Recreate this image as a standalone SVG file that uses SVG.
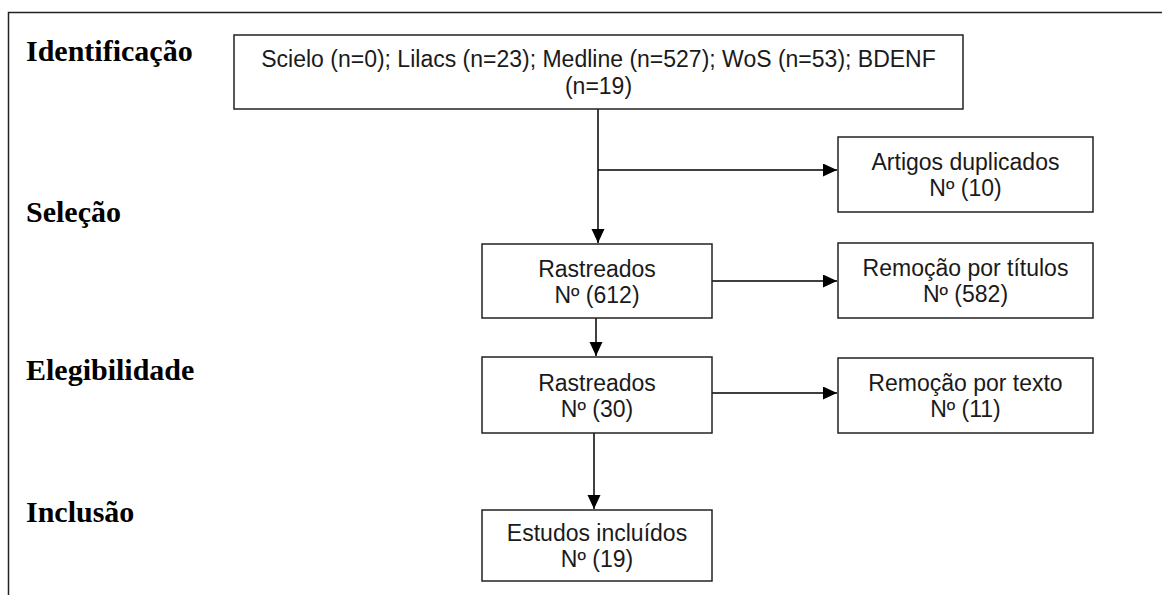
<svg xmlns="http://www.w3.org/2000/svg" width="1162" height="595" viewBox="0 0 1162 595">
<defs>
<marker id="arr" markerUnits="userSpaceOnUse" markerWidth="15" markerHeight="14" refX="14" refY="6.5" orient="auto">
<path d="M0,0 L14,6.5 L0,13 Z" fill="#000"/>
</marker>
<style>
.box{fill:#fff;stroke:#222;stroke-width:1.5}
.t{font-family:"Liberation Sans",Arial,sans-serif;font-size:23px;fill:#1a1a1a;text-anchor:middle}
.lbl{font-family:"Liberation Serif","Times New Roman",serif;font-size:30px;font-weight:bold;fill:#000}
.c{fill:none;stroke:#000;stroke-width:1.5}
</style>
</defs>
<rect width="1162" height="595" fill="#fff"/>
<path d="M8.5,595 V12.5 H1162" fill="none" stroke="#222" stroke-width="1.5"/>
<g id="labels">
<text class="lbl" x="26" y="61">Identificação</text>
<text class="lbl" x="26" y="222">Seleção</text>
<text class="lbl" x="26" y="380">Elegibilidade</text>
<text class="lbl" x="26" y="522">Inclusão</text>
</g>
<g id="connectors">
<path class="c" d="M598,109 V243" marker-end="url(#arr)"/>
<path class="c" d="M598,170 H837" marker-end="url(#arr)"/>
<path class="c" d="M712,281 H837" marker-end="url(#arr)"/>
<path class="c" d="M596,318 V356" marker-end="url(#arr)"/>
<path class="c" d="M712,393 H837" marker-end="url(#arr)"/>
<path class="c" d="M594,433 V509" marker-end="url(#arr)"/>
</g>
<g id="n1">
<rect class="box" x="234" y="35" width="729" height="74"/>
<text class="t" x="598.5" y="67">Scielo (n=0); Lilacs (n=23); Medline (n=527); WoS (n=53); BDENF</text>
<text class="t" x="598.5" y="94">(n=19)</text>
</g>
<g id="n2">
<rect class="box" x="838" y="137" width="255" height="75"/>
<text class="t" x="965.5" y="170">Artigos duplicados</text>
<text class="t" x="965.5" y="196">Nº (10)</text>
</g>
<g id="n3">
<rect class="box" x="482" y="244" width="230" height="74"/>
<text class="t" x="597" y="277">Rastreados</text>
<text class="t" x="597" y="303">Nº (612)</text>
</g>
<g id="n4">
<rect class="box" x="838" y="243" width="255" height="75"/>
<text class="t" x="965.5" y="276">Remoção por títulos</text>
<text class="t" x="965.5" y="302">Nº (582)</text>
</g>
<g id="n5">
<rect class="box" x="482" y="357" width="230" height="76"/>
<text class="t" x="597" y="391">Rastreados</text>
<text class="t" x="597" y="417">Nº (30)</text>
</g>
<g id="n6">
<rect class="box" x="838" y="358" width="255" height="75"/>
<text class="t" x="965.5" y="391">Remoção por texto</text>
<text class="t" x="965.5" y="417">Nº (11)</text>
</g>
<g id="n7">
<rect class="box" x="482" y="510" width="230" height="71"/>
<text class="t" x="597" y="541">Estudos incluídos</text>
<text class="t" x="597" y="567">Nº (19)</text>
</g>
</svg>
